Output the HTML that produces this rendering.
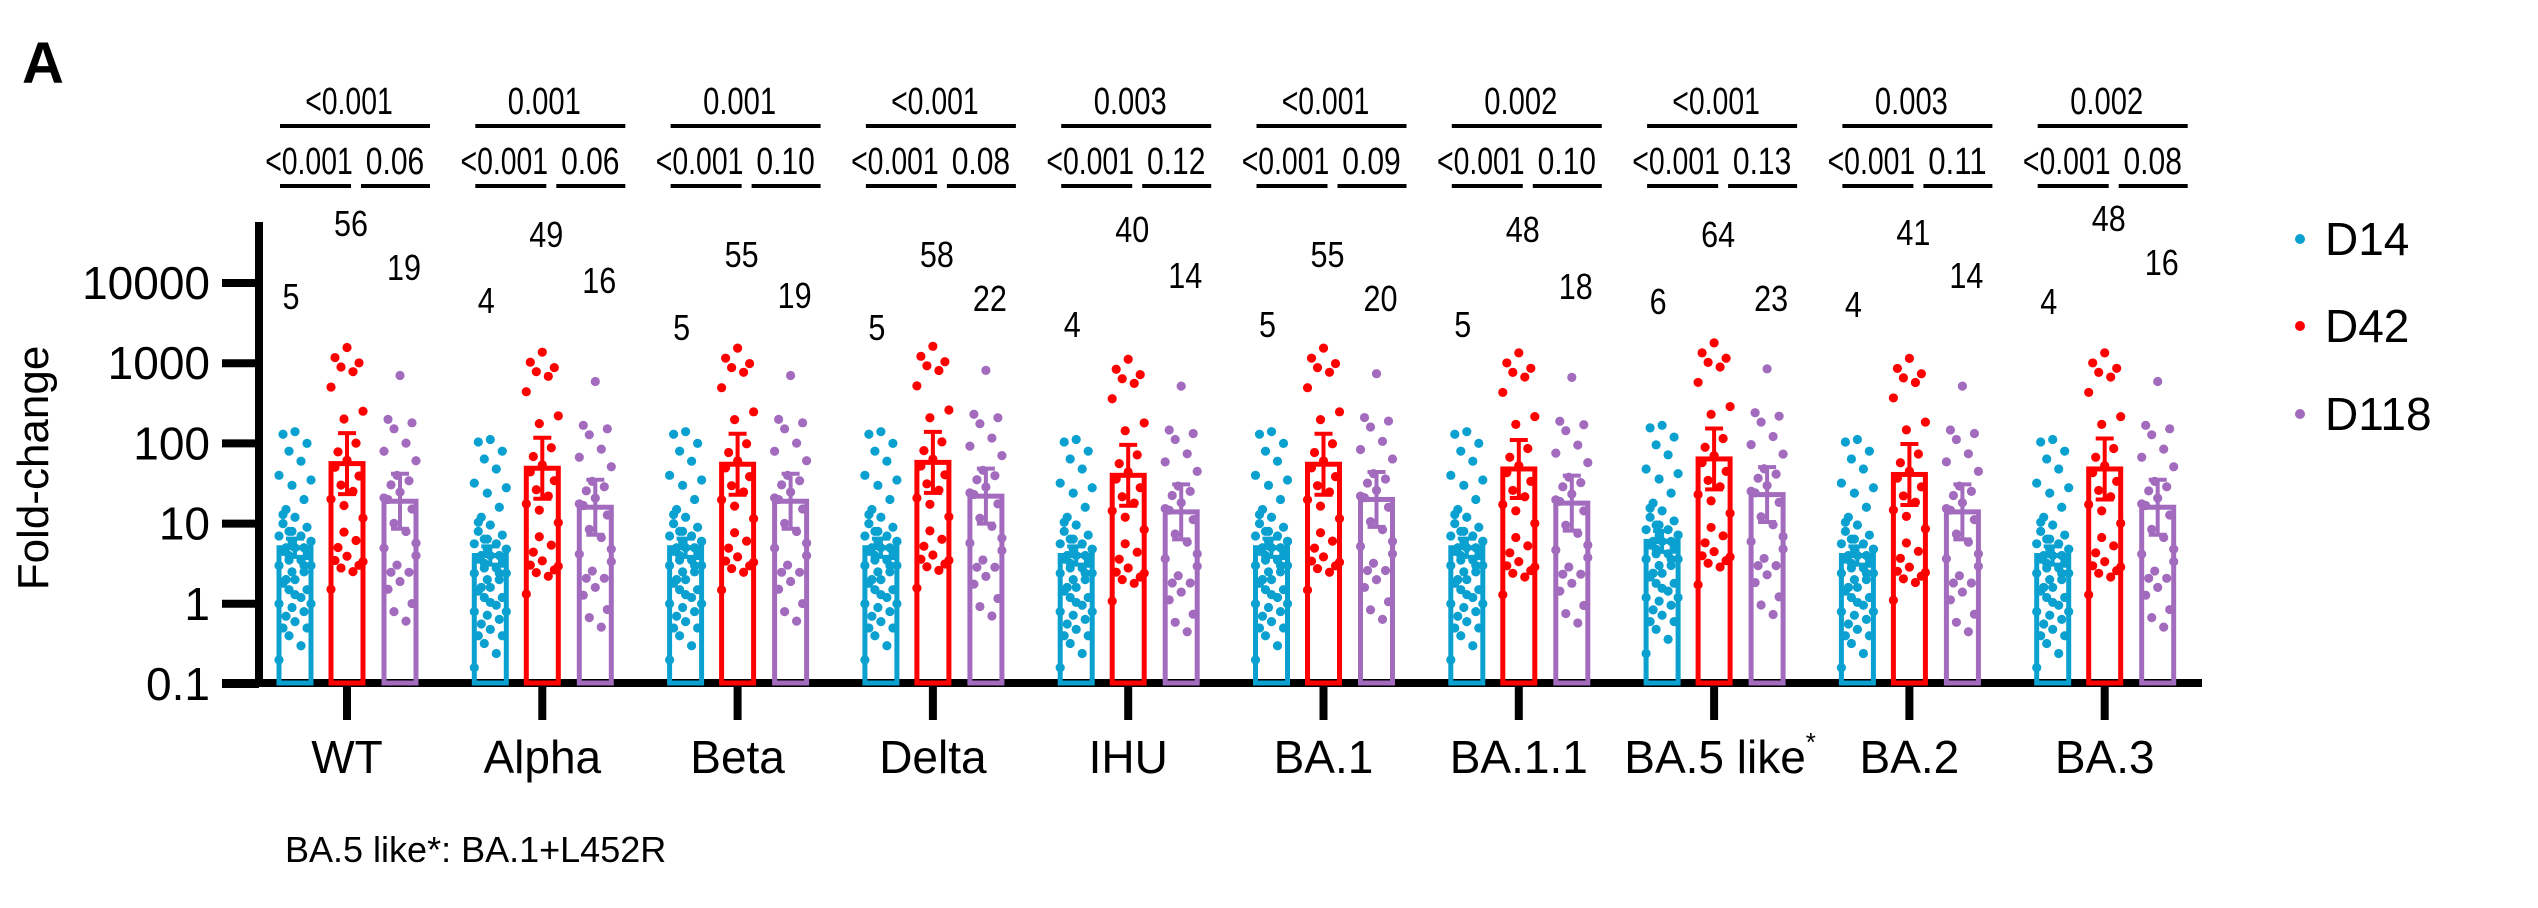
<!DOCTYPE html>
<html><head><meta charset="utf-8"><style>
html,body{margin:0;padding:0;background:#fff;}
svg{display:block;font-family:"Liberation Sans",Arial,sans-serif;}
</style></head><body>
<svg id="chart" width="2538" height="908" viewBox="0 0 2538 908" xmlns="http://www.w3.org/2000/svg">
<text x="22" y="83" font-size="58" font-weight="bold">A</text>
<text transform="translate(48,468) rotate(-90)" text-anchor="middle" font-size="44">Fold-change</text>
<text x="285" y="862" font-size="36">BA.5 like*: BA.1+L452R</text>
<g id="legend">
 <g><circle cx="2300" cy="239" r="5" fill="#0aa0cf"/><text x="2325" y="255" font-size="46">D14</text></g>
 <g><circle cx="2300" cy="326" r="5" fill="#ff0000"/><text x="2325" y="342" font-size="46">D42</text></g>
 <g><circle cx="2300" cy="414" r="5" fill="#a26bbd"/><text x="2325" y="430" font-size="46">D118</text></g>
</g>
<g id="plot"></g>
</svg>
<script>
const categories = ["WT","Alpha","Beta","Delta","IHU","BA.1","BA.1.1","BA.5 like","BA.2","BA.3"];
const gmtD14 = [5,4,5,5,4,5,5,6,4,4];
const gmtD42 = [56,49,55,58,40,55,48,64,41,48];
const gmtD118 = [19,16,19,22,14,20,18,23,14,16];
const errD14 = [1.3,1.3,1.3,1.3,1.3,1.3,1.3,1.35,1.3,1.3];
const errD42 = [2.4,2.4,2.4,2.4,2.4,2.4,2.3,2.4,2.4,2.4];
const errD118 = [2.2,2.2,2.2,2.2,2.2,2.2,2.2,2.2,2.2,2.2];
const pTop = ["<0.001","0.001","0.001","<0.001","0.003","<0.001","0.002","<0.001","0.003","0.002"];
const pLeft = ["<0.001","<0.001","<0.001","<0.001","<0.001","<0.001","<0.001","<0.001","<0.001","<0.001"];
const pRight = ["0.06","0.06","0.10","0.08","0.12","0.09","0.10","0.13","0.11","0.08"];
const labelYD14 = [296,300,327,327,324,324,324,301,304,301];
const labelYD42 = [223,234,254,254,229,254,229,234,232,218];
const labelYD118 = [267,280,295,298,275,298,286,298,275,262];
const yTicks = [0.1,1,10,100,1000,10000];
// individual values relative to group GMT (read from WT group)
const relD14 = [28,26,20,16,12,8,7,6,4,3,2.4,2,1.8,1.6,1.4,1.4,1.2,1.2,1,1,1,0.9,0.8,0.8,0.7,0.6,0.6,0.5,0.5,0.4,0.4,0.36,0.3,0.3,0.24,0.2,0.2,0.18,0.16,0.14,0.12,0.1,0.1,0.08,0.06,0.04,1.2,1.6,0.6,0.4,0.26,2.6,0.9,0.7];
const relD42 = [28,21,18,16,14,9,4.5,3.6,1.8,1.4,1.1,0.9,0.7,0.54,0.45,0.36,0.21,0.14,0.11,0.09,0.07,0.062,0.054,0.05,0.045,0.027,0.06,0.3];
const relD118 = [37,10.5,9.5,8,5.3,4.2,3.2,2.1,1.8,1.6,1.3,1.05,0.8,0.53,0.42,0.26,0.21,0.16,0.13,0.13,0.1,0.08,0.053,0.042,0.032,1.1,0.3];

const NS="http://www.w3.org/2000/svg";
const plot=document.getElementById('plot');
const col={d14:"#0aa0cf",d42:"#ff0000",d118:"#a26bbd"};
const jit=[0,-12,12,-6,6,-16,16,-3,9,-9];
const yTop=283, decade=80.2;
function yScale(v){return yTop+(4-Math.log10(v))*decade;}
function xScale(i){return 347+i*195.3;}
function el(tag,attrs,parent){const e=document.createElementNS(NS,tag);for(const k in attrs)e.setAttribute(k,attrs[k]);(parent||plot).appendChild(e);return e;}

const yAxis=el('line',{x1:259,y1:222,x2:259,y2:687,stroke:"#000","stroke-width":8});


yTicks.forEach(t=>{
  const y=yScale(t);
  const tk=el('line',{x1:222,y1:y,x2:259,y2:y,stroke:"#000","stroke-width":8});
  
  
  const tx=el('text',{x:210,y:y+16,"text-anchor":"end","font-size":46});
  tx.textContent=String(t);
  
  
});
const xAxis=el('line',{x1:222,y1:683,x2:2202,y2:683,stroke:"#000","stroke-width":8});



const series=[["d14",gmtD14,errD14,relD14,labelYD14,-52],["d42",gmtD42,errD42,relD42,labelYD42,0],["d118",gmtD118,errD118,relD118,labelYD118,53]];
const condensed=14.6;
categories.forEach((c,i)=>{
  const cx=xScale(i);
  const g=el('g',{});
  
  
  const xt=el('line',{x1:cx,y1:683,x2:cx,y2:720,stroke:"#000","stroke-width":8},g);
  
  
  const lab=el('text',{x:cx,y:773,"text-anchor":"middle","font-size":46},g);
  lab.textContent=c;
  
  
  if(c==="BA.5 like"){const st=el('tspan',{dy:-22,"font-size":26},lab);st.textContent="*";lab.setAttribute('x',cx+6);}
  series.forEach(([k,gm,er,rel,ly,off])=>{
    const bx=cx+off, v=gm[i], yb=yScale(v);
    const bar=el('rect',{x:bx-16,y:yb,width:32,height:683-yb,fill:"none",stroke:col[k],"stroke-width":5},g);
    
    
    rel.forEach((r,j)=>{
      const d=el('circle',{cx:bx+jit[j%jit.length],cy:yScale(v*r),r:4.6,fill:col[k]},g);
      
      
    });
    const y1=yScale(v*er[i]), y2=yScale(v/er[i]);
    const eb=el('path',{d:`M${bx},${y1}V${y2}M${bx-9},${y1}H${bx+9}M${bx-9},${y2}H${bx+9}`,stroke:col[k],"stroke-width":4,fill:"none"},g);
    
    
    const s=String(v);
    const nt=el('text',{x:bx-2+(k==="d14"?-2:6),y:ly[i]+13,"text-anchor":"middle","font-size":36,textLength:s.length*17,lengthAdjust:"spacingAndGlyphs"},g);
    nt.textContent=s;
    
    
  });
  const L=cx-67,R=cx+83;
  const tl=el('line',{x1:L,y1:126,x2:R,y2:126,stroke:"#000","stroke-width":4},g);
  
  
  const ll=el('line',{x1:L,y1:186,x2:cx+4,y2:186,stroke:"#000","stroke-width":4},g);
  
  
  const rl=el('line',{x1:cx+14,y1:186,x2:R,y2:186,stroke:"#000","stroke-width":4},g);
  
  
  [[pTop[i],cx+2,114,'p-value-top'],[pLeft[i],cx-38,174,'p-value-left'],[pRight[i],cx+48,174,'p-value-right']].forEach(([s,x,y,n])=>{
    const t=el('text',{x:x,y:y,"text-anchor":"middle","font-size":38,textLength:s.length*condensed,lengthAdjust:"spacingAndGlyphs"},g);
    t.textContent=s;
    
    
  });
});
</script>
</body></html>
